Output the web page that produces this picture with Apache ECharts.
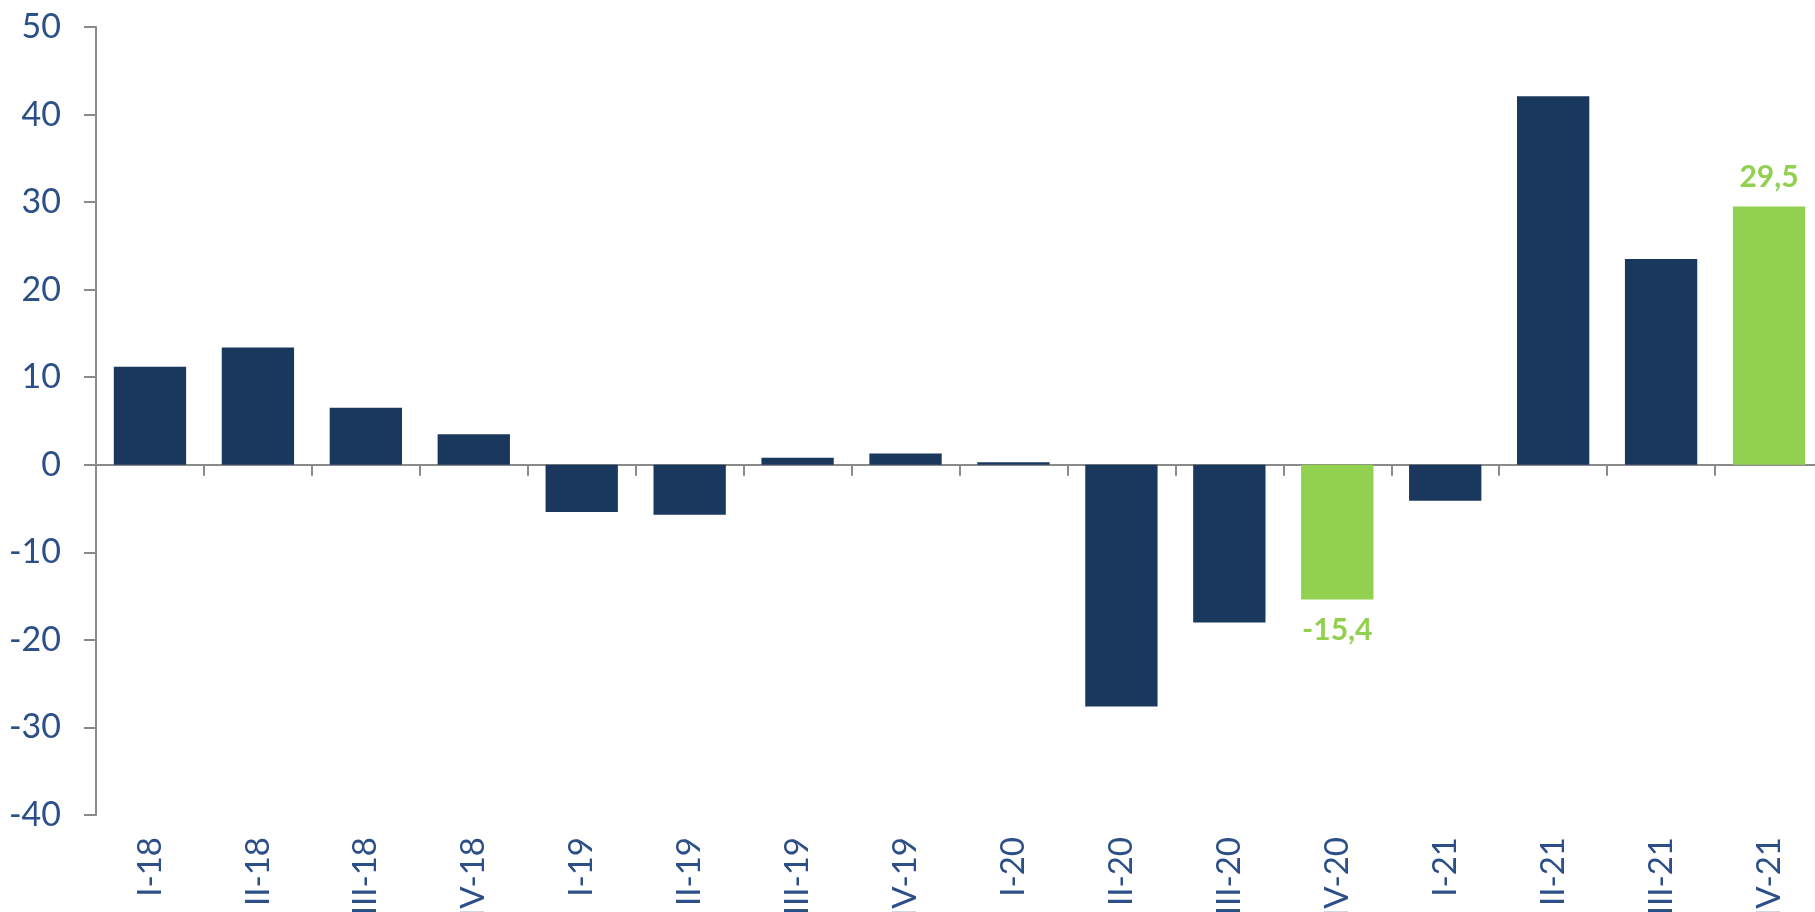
<!DOCTYPE html>
<html>
<head>
<meta charset="utf-8">
<script src="https://cdn.jsdelivr.net/npm/echarts@6/dist/echarts.min.js"></script>
<style>
html,body{margin:0;padding:0;background:#fff;}
#chart{width:1815px;height:912px;}
</style>
</head>
<body>
<div id="chart"></div>
<script>
const categories = ['I-18','II-18','III-18','IV-18','I-19','II-19','III-19','IV-19','I-20','II-20','III-20','IV-20','I-21','II-21','III-21','IV-21'];
const values = [11.2, 13.4, 6.5, 3.5, -5.4, -5.7, 0.8, 1.3, 0.3, -27.6, -18.0, -15.4, -4.1, 42.1, 23.5, 29.5];
const highlighted = ['IV-20', 'IV-21'];
const yTicks = { min: -40, max: 50, interval: 10 };

const navy = '#1a375e';
const green = '#92d050';
const textBlue = '#2b4f86';
const axisGray = '#8a8a8a';
const fontFam = 'Lato, "Open Sans", sans-serif';

const seriesData = categories.map((c, i) => {
  const v = values[i];
  const hl = highlighted.includes(c);
  const item = { value: v, itemStyle: { color: hl ? green : navy } };
  if (hl) {
    item.label = {
      show: true,
      position: v >= 0 ? 'top' : 'bottom',
      distance: v >= 0 ? 14 : 16,
      color: green,
      fontSize: 30,
      fontWeight: 'bold',
      fontFamily: fontFam,
      formatter: p => String(p.value.toFixed(1)).replace('.', ',')
    };
  }
  return item;
});

const chart = echarts.init(document.getElementById('chart'));
chart.setOption({
  animation: false,
  grid: { left: 96, right: -8, top: 27, bottom: 97, containLabel: false, outerBoundsMode: 'none' },
  xAxis: [
    {
      type: 'category',
      data: categories,
      axisLine: { onZero: true, lineStyle: { color: axisGray, width: 2 } },
      axisTick: { show: true, alignWithLabel: false, inside: false, length: 11, lineStyle: { color: axisGray, width: 2 } },
      axisLabel: { show: false },
      splitLine: { show: false }
    },
    {
      type: 'category',
      data: categories,
      position: 'bottom',
      axisLine: { show: false, onZero: false },
      axisTick: { show: false },
      axisLabel: {
        show: true, interval: 0, rotate: 90, margin: 22,
        color: textBlue, fontSize: 33, fontFamily: fontFam
      },
      splitLine: { show: false }
    }
  ],
  yAxis: {
    type: 'value',
    min: yTicks.min, max: yTicks.max, interval: yTicks.interval,
    axisLine: { show: true, lineStyle: { color: axisGray, width: 2 } },
    axisTick: { show: true, length: 12, lineStyle: { color: axisGray, width: 2 } },
    axisLabel: { color: textBlue, fontSize: 34, fontFamily: fontFam, margin: 35 },
    splitLine: { show: false }
  },
  series: [{
    type: 'bar',
    xAxisIndex: 0,
    data: seriesData,
    barCategoryGap: '33%'
  }]
});
</script>
</body>
</html>
